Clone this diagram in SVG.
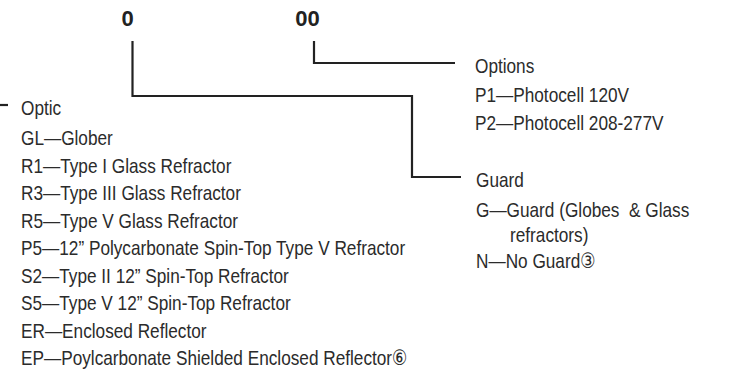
<svg xmlns="http://www.w3.org/2000/svg" width="735" height="386" viewBox="0 0 735 386">
<style>
.t{font-family:"Liberation Sans","DejaVu Sans",sans-serif;font-size:21px;fill:#2b2b2b;white-space:pre}
.h{font-family:"Liberation Sans","DejaVu Sans",sans-serif;font-size:22px;font-weight:bold;fill:#222;text-anchor:middle}
.c{fill:none;stroke:#222;stroke-width:2.2}
</style>
<rect width="735" height="386" fill="#fff"/>
<g id="code">
<text class="h" x="127.5" y="26">0</text>
<text class="h" x="307.5" y="26">00</text>
</g>
<g id="connectors">
<path class="c" d="M132.5 41V96H412V177H461"/>
<path class="c" d="M314 41V63H455"/>
<path class="c" d="M0 105H8"/>
</g>
<g id="optic">
<text class="t" transform="translate(21 115) scale(.82 1)">Optic</text>
<text class="t" transform="translate(21 145) scale(.82 1)">GL—Glober</text>
<text class="t" transform="translate(21 172.5) scale(.82 1)">R1—Type I Glass Refractor</text>
<text class="t" transform="translate(21 200) scale(.82 1)">R3—Type III Glass Refractor</text>
<text class="t" transform="translate(21 227.5) scale(.82 1)">R5—Type V Glass Refractor</text>
<text class="t" transform="translate(21 255) scale(.82 1)">P5—12” Polycarbonate Spin-Top Type V Refractor</text>
<text class="t" transform="translate(21 282.5) scale(.82 1)">S2—Type II 12” Spin-Top Refractor</text>
<text class="t" transform="translate(21 310) scale(.82 1)">S5—Type V 12” Spin-Top Refractor</text>
<text class="t" transform="translate(21 337.5) scale(.82 1)">ER—Enclosed Reflector</text>
<text class="t" transform="translate(21 365) scale(.82 1)">EP—Poylcarbonate Shielded Enclosed Reflector⑥</text>
</g>
<g id="options">
<text class="t" transform="translate(475 73) scale(.82 1)">Options</text>
<text class="t" transform="translate(475 101.5) scale(.82 1)">P1—Photocell 120V</text>
<text class="t" transform="translate(475 130) scale(.82 1)">P2—Photocell 208-277V</text>
</g>
<g id="guard">
<text class="t" transform="translate(476 187) scale(.82 1)">Guard</text>
<text class="t" transform="translate(476 216.5) scale(.82 1)">G—Guard (Globes  &amp; Glass</text>
<text class="t" transform="translate(510 242) scale(.82 1)">refractors)</text>
<text class="t" transform="translate(476 268) scale(.82 1)">N—No Guard③</text>
</g>
</svg>
